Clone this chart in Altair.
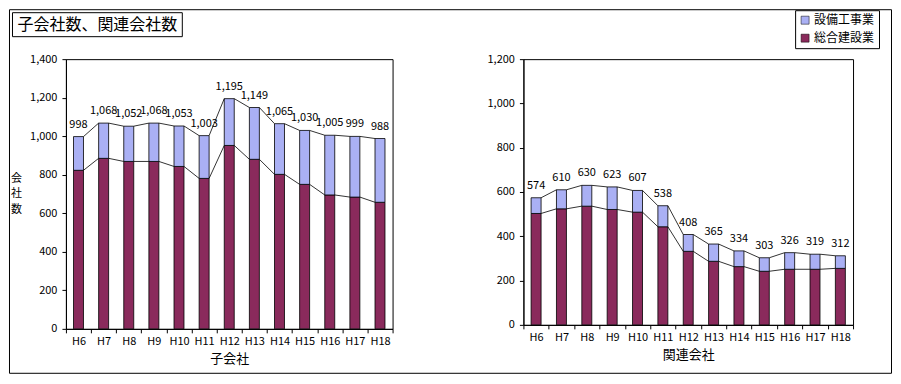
import altair as alt
import pandas as pd

years = ["H6", "H7", "H8", "H9", "H10", "H11", "H12", "H13", "H14", "H15", "H16", "H17", "H18"]
sub_total = [998, 1068, 1052, 1068, 1053, 1003, 1195, 1149, 1065, 1030, 1005, 999, 988]
sub_general = [823, 885, 869, 869, 843, 781, 952, 880, 802, 750, 695, 684, 657]
aff_total = [574, 610, 630, 623, 607, 538, 408, 365, 334, 303, 326, 319, 312]
aff_general = [503, 524, 536, 521, 509, 443, 332, 287, 263, 242, 251, 251, 255]
categories = ["設備工事業", "総合建設業"]
colors = ["#aab0f4", "#8a2a5c"]
FONT = "Noto Sans CJK JP"


def bars_df(total, general):
    rows = []
    for y, t, g in zip(years, total, general):
        rows.append({"year": y, "cat": "総合建設業", "value": g, "ord": 0})
        rows.append({"year": y, "cat": "設備工事業", "value": t - g, "ord": 1})
    return pd.DataFrame(rows)


def lines_df(total, general):
    rows = []
    for i in range(len(years) - 1):
        for lvl in (total, general):
            rows.append({"year": years[i], "next": years[i + 1], "v": lvl[i], "v2": lvl[i + 1]})
    return pd.DataFrame(rows)


def panel(total, general, ymax, width, height, xtitle, ytitle, show_legend, extras):
    xscale = alt.Scale(domain=years, paddingInner=0, paddingOuter=0)
    xaxis = alt.Axis(title=xtitle, labelAngle=0, tickBand="extent", tickSize=4,
                     labelPadding=3, titlePadding=6, titleFontSize=13,
                     titleFontWeight="normal", labelFontSize=11)
    yaxis_kw = dict(values=list(range(0, ymax + 1, 200)), format=",d", grid=False,
                    tickSize=4, labelPadding=5, labelFontSize=11)
    if ytitle:
        yaxis_kw.update(title=ytitle, titleAngle=0, titleX=-50, titleY=119,
                        titleAlign="center", titleBaseline="middle",
                        titleFontSize=11, titleLineHeight=16, titleFontWeight="normal")
    else:
        yaxis_kw.update(title=None)
    yaxis = alt.Axis(**yaxis_kw)
    yscale = alt.Scale(domain=[0, ymax], nice=False)

    if show_legend:
        legend = alt.Legend(title=None, orient="none", legendX=272, legendY=-49,
                            symbolType="square", symbolSize=64, symbolStrokeColor="black",
                            symbolStrokeWidth=0.5, labelFontSize=12, labelFont=FONT,
                            rowPadding=6, labelOffset=3, padding=4,
                            strokeColor="black", fillColor="white", labelLimit=200)
    else:
        legend = None

    bars = alt.Chart(bars_df(total, general)).mark_bar(size=10, stroke="black", strokeWidth=0.8).encode(
        x=alt.X("year:N", scale=xscale, axis=xaxis, sort=years),
        y=alt.Y("value:Q", stack="zero", scale=yscale, axis=yaxis),
        color=alt.Color("cat:N", scale=alt.Scale(domain=categories, range=colors), legend=legend),
        order=alt.Order("ord:Q"),
    )
    rules = alt.Chart(lines_df(total, general)).mark_rule(
        color="black", strokeWidth=0.8, xOffset=5, x2Offset=-5
    ).encode(
        x=alt.X("year:N", scale=xscale, axis=xaxis, sort=years),
        x2="next:N",
        y=alt.Y("v:Q", scale=yscale, axis=yaxis),
        y2="v2:Q",
    )
    labels = alt.Chart(pd.DataFrame({"year": years, "total": total})).mark_text(
        baseline="bottom", dy=-7, fontSize=11, font=FONT, color="black"
    ).encode(
        x=alt.X("year:N", scale=xscale, axis=xaxis, sort=years),
        y=alt.Y("total:Q", scale=yscale, axis=yaxis),
        text=alt.Text("total:Q", format=","),
    )
    return alt.layer(*extras, bars, rules, labels).properties(width=width, height=height)


one = pd.DataFrame({"k": [0]})
outer = alt.Chart(one).mark_rect(fillOpacity=0, stroke="black", strokeWidth=1).encode(
    x=alt.value(-56.5), x2=alt.value(826.5), y=alt.value(-49.5), y2=alt.value(314.5)
)
title_box = alt.Chart(one).mark_rect(fillOpacity=0, stroke="black", strokeWidth=1).encode(
    x=alt.value(-53.5), x2=alt.value(116.5), y=alt.value(-46.5), y2=alt.value(-22.5)
)
title_text = alt.Chart(one).mark_text(fontSize=16, font=FONT, color="black", baseline="middle").encode(
    x=alt.value(31.5), y=alt.value(-34.5), text=alt.value("子会社数、関連会社数")
)

left = panel(sub_total, sub_general, 1400, 327, 270, "子会社", ["会", "社", "数"], False,
             [outer, title_box, title_text])
right = panel(aff_total, aff_general, 1200, 330, 266, "関連会社", None, True, [])

chart = alt.hconcat(left, right, spacing=131, bounds="flush").resolve_scale(
    color="independent", x="independent", y="independent"
).properties(padding=0).configure_view(
    stroke="black", strokeWidth=1
).configure_axis(
    domainColor="black", tickColor="black", labelColor="black", titleColor="black",
    labelFont=FONT, titleFont=FONT
)

chart.save("out.html", embed_options={"renderer": "svg", "actions": False})
